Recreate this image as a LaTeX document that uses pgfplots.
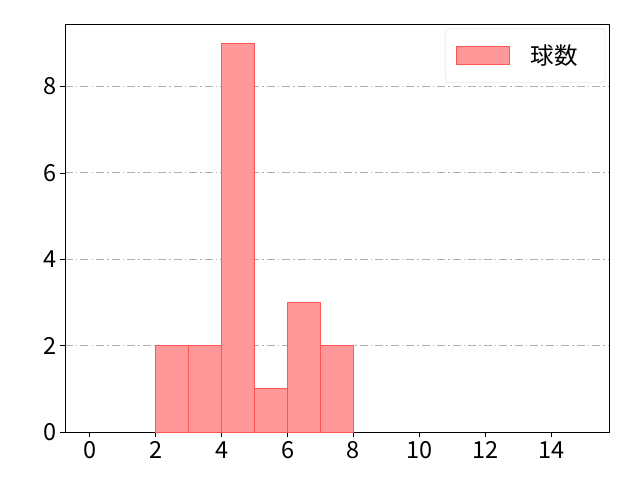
\documentclass[border=0pt]{standalone}
\usepackage{pgfplots}
\pgfplotsset{compat=1.18}
\usepackage{fontspec}
\setmainfont{Noto Sans CJK JP}
\definecolor{barfill}{HTML}{FF9999}
\definecolor{baredge}{HTML}{FF5555}
\definecolor{gridc}{HTML}{B0B0B0}
\begin{document}
\begin{tikzpicture}
\useasboundingbox (0,0) rectangle (640pt,480pt);
\begin{axis}[
    at={(65pt,48pt)}, anchor=south west,
    scale only axis, width=544pt, height=408pt,
    xmin=-0.75, xmax=15.75, ymin=0, ymax=9.45,
    xtick={0,2,...,14}, ytick={0,2,4,6,8},
    tick align=outside, xtick pos=bottom, ytick pos=left,
    major tick length=5pt,
    tick style={black, line width=0.9pt},
    axis line style={line width=0.9pt},
    ymajorgrids,
    grid style={gridc, line width=1pt, dash pattern=on 8pt off 3pt on 1.5pt off 3pt},
    ticklabel style={font=\fontsize{23.5}{27}\selectfont},
    xticklabel style={yshift=-1pt},
    /pgf/number format/assume math mode=true,
    legend style={at={(0.993,0.99)}, anchor=north east, draw=gray!30, rounded corners=4pt,
        font=\fontsize{23.5}{27}\selectfont, inner xsep=11pt, inner ysep=14.5pt},
    legend cell align=left,
    legend image code/.code={\fill[barfill, draw=baredge, line width=0.8pt, sharp corners] (0pt,-9pt) rectangle (53pt,9pt);},
]
\addplot[ybar interval, fill=barfill, draw=baredge, line width=0.8pt] coordinates {
    (2,2) (3,2) (4,9) (5,1) (6,3) (7,2) (8,2)
};
\addlegendentry{\hspace{19pt}\makebox[61pt][l]{球数}}
\end{axis}
\end{tikzpicture}
\end{document}
